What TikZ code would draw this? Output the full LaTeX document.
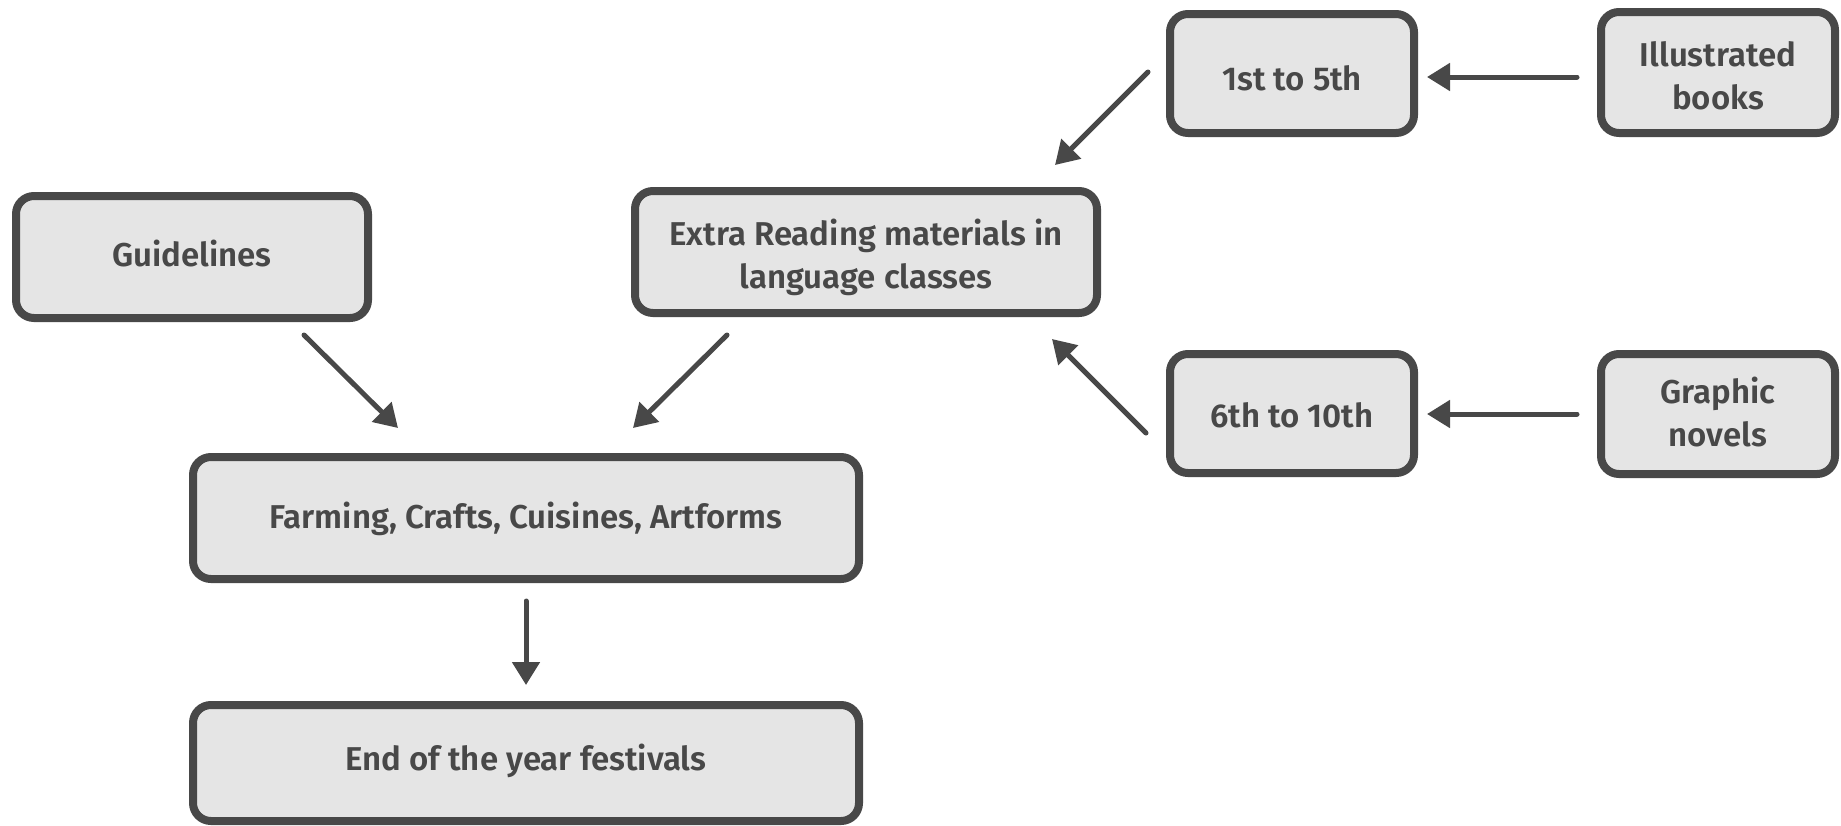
\documentclass[tikz,border=0pt]{standalone}
\usepackage{fontspec}
\setmainfont{Fira Sans}[UprightFont={* SemiBold}]
\usetikzlibrary{arrows.meta}
\definecolor{ink}{HTML}{484848}
\definecolor{boxfill}{HTML}{E5E5E5}
% box label: first baseline set #1 points below the box centre
\newcommand{\cardtext}[2]{\raisebox{-#1pt}{\begin{tabular}[t]{@{}c@{}}#2\end{tabular}}}
\begin{document}
\begin{tikzpicture}[x=1pt,y=-1pt,
  card/.style={draw=ink, line width=8pt, fill=boxfill, rounded corners=18pt,
    inner sep=0pt, text=ink, text height=0pt, text depth=0pt,
    font=\fontsize{33}{43}\selectfont},
  link/.style={draw=ink, line width=5pt, line cap=round,
    -{Triangle[length=23pt,width=27pt]}}]
\useasboundingbox (0,0) rectangle (1841,825);
% boxes
\node[card, minimum width=352pt, minimum height=122pt] (guide) at (192,257) {\cardtext{9.5}{Guidelines}};
\node[card, minimum width=462pt, minimum height=122pt] (extra) at (866,252) {\cardtext{-7}{Extra Reading materials in\\language classes}};
\node[card, minimum width=244pt, minimum height=119pt] (first) at (1292,73.5) {\cardtext{16.5}{1st to 5th}};
\node[card, minimum width=234pt, minimum height=121pt] (illus) at (1718,72.5) {\cardtext{-6.5}{Illustrated\\books}};
\node[card, minimum width=244pt, minimum height=119pt] (sixth) at (1292,413.5) {\cardtext{13.5}{6th to 10th}};
\node[card, minimum width=234pt, minimum height=120pt] (graphic) at (1718,414) {\cardtext{-10.5}{Graphic\\novels}};
\node[card, minimum width=666pt, minimum height=122pt] (farm) at (526,518) {\cardtext{10.3}{Farming, Crafts, Cuisines, Artforms}};
\node[card, minimum width=666pt, minimum height=116pt] (fest) at (526,763) {\cardtext{7.5}{End of the year festivals}};
% connector end points
\coordinate (g1) at (304,335);  \coordinate (g2) at (398,428);
\coordinate (e1) at (727,335);  \coordinate (e2) at (633,428);
\coordinate (f1) at (1148,72);  \coordinate (f2) at (1055,165);
\coordinate (s1) at (1146,433); \coordinate (s2) at (1052,339);
\coordinate (i1) at (1577,77);  \coordinate (i2) at (1427,77);
\coordinate (n1) at (1577,414); \coordinate (n2) at (1427,414);
\coordinate (m1) at (526,601);  \coordinate (m2) at (526,685);
% connectors
\draw[link] (g1) -- (g2);
\draw[link] (e1) -- (e2);
\draw[link] (f1) -- (f2);
\draw[link] (s1) -- (s2);
\draw[link] (i1) -- (i2);
\draw[link] (n1) -- (n2);
\draw[link] (m1) -- (m2);
\end{tikzpicture}
\end{document}
